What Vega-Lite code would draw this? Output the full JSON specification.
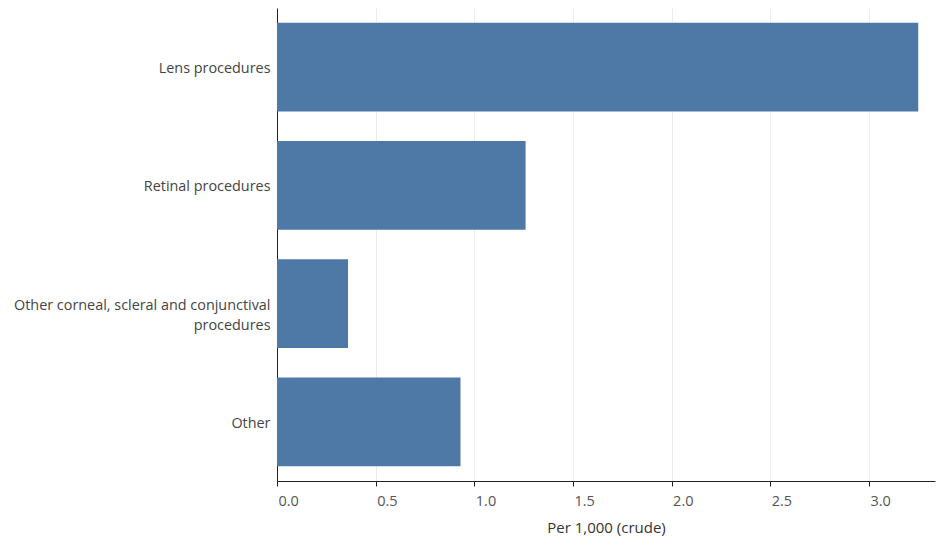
{
  "$schema": "https://vega.github.io/schema/vega-lite/v6.json",
  "autosize": "none",
  "width": 658,
  "height": 473,
  "padding": {"left": 277, "top": 8, "right": 4, "bottom": 64},
  "background": "white",
  "config": {
    "font": "Open Sans",
    "view": {"stroke": null}
  },
  "data": {
    "values": [
      {"procedure": "Lens procedures", "rate": 3.25},
      {"procedure": "Retinal procedures", "rate": 1.26},
      {"procedure": "Other corneal, scleral and conjunctival procedures", "rate": 0.36},
      {"procedure": "Other", "rate": 0.93}
    ]
  },
  "mark": {"type": "bar", "color": "#4e79a7"},
  "encoding": {
    "y": {
      "field": "procedure",
      "type": "nominal",
      "sort": null,
      "scale": {"paddingInner": 0.25, "paddingOuter": 0.125},
      "axis": {
        "title": null,
        "ticks": false,
        "domainColor": "#222",
        "domainWidth": 1,
        "labelColor": "#444",
        "labelFontSize": 14.4,
        "labelPadding": 7,
        "labelLimit": 300,
        "labelOffset": 2,
        "labelExpr": "datum.value == 'Other corneal, scleral and conjunctival procedures' ? ['Other corneal, scleral and conjunctival', 'procedures'] : datum.value",
        "labelLineHeight": 20
      }
    },
    "x": {
      "field": "rate",
      "type": "quantitative",
      "scale": {"domain": [0, 3.335], "nice": false},
      "axis": {
        "title": "Per 1,000 (crude)",
        "titleFontWeight": "normal",
        "titleFontSize": 15,
        "titleColor": "#333",
        "titlePadding": 13,
        "values": [0, 0.5, 1, 1.5, 2, 2.5, 3],
        "format": ".1f",
        "labelColor": "#555",
        "labelFontSize": 14.5,
        "labelPadding": 8,
        "labelAlign": "left",
        "labelOffset": 1,
        "tickSize": 5,
        "tickColor": "#222",
        "domainColor": "#222",
        "gridColor": "#ebebeb",
        "grid": true
      }
    }
  }
}
